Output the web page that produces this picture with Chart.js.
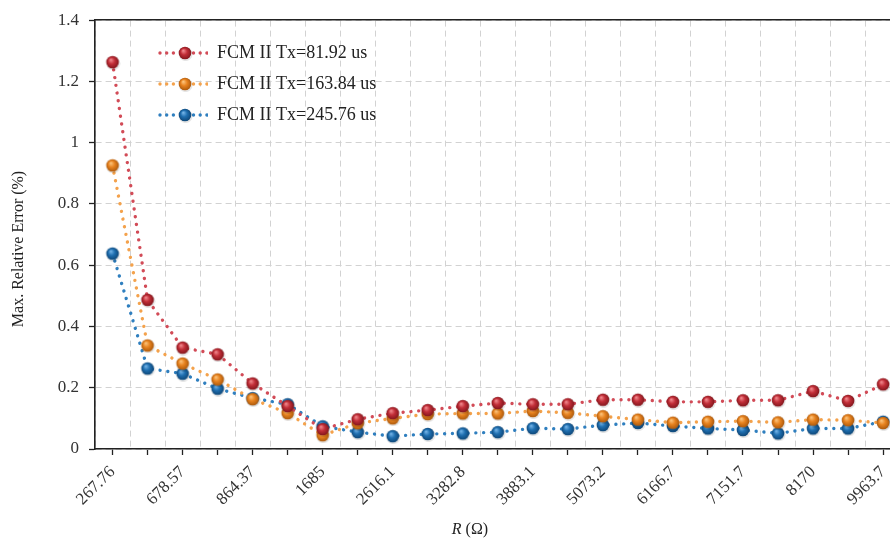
<!DOCTYPE html>
<html>
<head>
<meta charset="utf-8">
<script src="https://cdn.jsdelivr.net/npm/chart.js@4.4.1/dist/chart.umd.min.js"></script>
<style>
  body { margin: 0; width: 890px; height: 542px; overflow: hidden; background: #fff; }
  #wrap { width: 910px; height: 542px; }
</style>
</head>
<body>
<div id="wrap"><canvas id="errChart" width="910" height="542"></canvas></div>
<script>
// tick labels shown on the x axis (every other point is labelled)
const rTicks = ["267.76", "678.57", "864.37", "1685", "2616.1", "3282.8",
                "3883.1", "5073.2", "6166.7", "7151.7", "8170", "9963.7"];

// 23 measured resistances, the odd ones have no label in the figure
const categories = [];
for (let i = 0; i < 23; i++) categories.push(i % 2 === 0 ? rTicks[i / 2] : "");

const seriesNames = ["FCM II Tx=81.92 us", "FCM II Tx=163.84 us", "FCM II Tx=245.76 us"];

// max relative error (%)
const err8192 = [1.263, 0.487, 0.331, 0.309, 0.214, 0.140, 0.065, 0.097, 0.117, 0.127, 0.140, 0.150,
                 0.146, 0.146, 0.161, 0.161, 0.154, 0.154, 0.159, 0.159, 0.189, 0.157, 0.211];
const err16384 = [0.926, 0.338, 0.279, 0.227, 0.163, 0.117, 0.045, 0.084, 0.100, 0.114, 0.116, 0.116,
                  0.124, 0.118, 0.107, 0.096, 0.086, 0.089, 0.091, 0.087, 0.096, 0.094, 0.085];
const err24576 = [0.638, 0.263, 0.246, 0.197, 0.166, 0.146, 0.074, 0.055, 0.042, 0.049, 0.051, 0.055,
                  0.068, 0.065, 0.078, 0.085, 0.075, 0.067, 0.062, 0.051, 0.067, 0.067, 0.089];

const yTicks = [0, 0.2, 0.4, 0.6, 0.8, 1, 1.2, 1.4];

const xTitle = ["R", " (\u03A9)"];   // R in italics
const yTitle = "Max. Relative Error (%)";

// colours: marker base / highlight / shade / dotted line
const palette = [
  { base: "#c22e38", light: "#f0878c", dark: "#7e151b", line: "#d24b57" },
  { base: "#e8831f", light: "#fbc27a", dark: "#a9570b", line: "#f4a24c" },
  { base: "#1f6fb0", light: "#72b2e6", dark: "#0d4474", line: "#2f7fbf" }
];

const serif = "'Liberation Serif', serif";

// shaded ball used as the point marker
function makeBall(c) {
  const cv = document.createElement("canvas");
  cv.width = 16; cv.height = 16;
  const g = cv.getContext("2d");
  g.fillStyle = "rgba(0,0,0,0.10)";
  g.beginPath(); g.arc(8.6, 9.2, 6.9, 0, Math.PI * 2); g.fill();
  const grd = g.createRadialGradient(6.2, 5.6, 0.4, 8, 8, 6.6);
  grd.addColorStop(0, c.light);
  grd.addColorStop(0.45, c.base);
  grd.addColorStop(1, c.dark);
  g.fillStyle = grd;
  g.beginPath(); g.arc(8, 8, 6.3, 0, Math.PI * 2); g.fill();
  return cv;
}

// legend sample: dotted line with a ball in the middle (left part left empty)
function makeLegendSample(c, ball) {
  const cv = document.createElement("canvas");
  cv.width = 100; cv.height = 16;
  const g = cv.getContext("2d");
  g.fillStyle = c.line;
  for (let x = 52; x <= 99; x += 6.7) {
    if (Math.abs(x - 77) < 7) continue;
    g.beginPath(); g.arc(x, 8, 1.7, 0, Math.PI * 2); g.fill();
  }
  g.drawImage(ball, 69, 0);
  return cv;
}

const balls = palette.map(makeBall);
const samples = palette.map((c, i) => makeLegendSample(c, balls[i]));

const seriesData = [err8192, err16384, err24576];
const datasets = seriesData.map((d, i) => ({
  label: seriesNames[i],
  data: d,
  borderColor: palette[i].line,
  backgroundColor: palette[i].base,
  borderWidth: 3.4,
  borderDash: [0.01, 7.8],
  borderCapStyle: "round",
  tension: 0,
  pointStyle: balls[i],
  pointRadius: 6,
  xAxisID: "x",
  yAxisID: "y"
}));

// axis titles: italic R on x, y title centred like the original
const axisTitlePlugin = {
  id: "axisTitles",
  afterDraw(chart) {
    const ctx = chart.ctx;
    ctx.save();
    ctx.fillStyle = "#222";
    ctx.textBaseline = "middle";
    ctx.font = "italic 16px " + serif;
    const w1 = ctx.measureText(xTitle[0]).width;
    ctx.font = "16px " + serif;
    const w2 = ctx.measureText(xTitle[1]).width;
    const x0 = 470 - (w1 + w2) / 2;
    ctx.font = "italic 16px " + serif;
    ctx.fillText(xTitle[0], x0, 530);
    ctx.font = "16px " + serif;
    ctx.fillText(xTitle[1], x0 + w1, 530);

    ctx.translate(19, 249);
    ctx.rotate(-Math.PI / 2);
    ctx.textAlign = "center";
    ctx.fillText(yTitle, 0, 0);
    ctx.restore();
  }
};

Chart.defaults.font.family = serif;
Chart.defaults.color = "#222";

const config = {
  type: "line",
  data: { labels: categories, datasets: datasets },
  options: {
    responsive: false,
    animation: false,
    layout: { padding: { left: 0, right: 5, top: 18, bottom: 0 } },
    plugins: {
      legend: {
        position: "chartArea",
        align: "start",
        title: { display: true, text: " ", font: { size: 10 }, padding: { top: 19, bottom: 0 } },
        labels: {
          usePointStyle: true,
          pointStyleWidth: 100,
          padding: 13,
          color: "#222",
          font: { size: 18 },
          generateLabels: (chart) => chart.data.datasets.map((ds, i) => ({
            text: ds.label,
            pointStyle: samples[i],
            fillStyle: "transparent",
            strokeStyle: "transparent",
            lineWidth: 0,
            hidden: false,
            datasetIndex: i,
            fontColor: "#222"
          }))
        }
      },
      tooltip: { enabled: false }
    },
    scales: {
      x: {
        type: "category",
        position: "bottom",
        offset: true,
        grid: { offset: false, drawOnChartArea: false, tickLength: 6, tickColor: "#222", tickWidth: 1.3 },
        border: { color: "#222", width: 1.6 },
        ticks: {
          autoSkip: false, maxRotation: 45, minRotation: 45, padding: 7,
          color: "#333", font: { size: 17 },
          callback: (v, i) => categories[i]
        },
        afterFit: (s) => { s.height = 93; }
      },
      x2: {
        type: "category",
        position: "top",
        labels: categories,
        offset: true,
        grid: { offset: true, drawTicks: false, color: "#d2d2d2", lineWidth: 1 },
        border: { color: "#222", width: 1.6, dash: [6, 4] },
        ticks: { display: false },
        afterFit: (s) => { s.height = 0; }
      },
      y: {
        min: 0,
        max: 1.4,
        afterBuildTicks: (s) => { s.ticks = yTicks.map(v => ({ value: v })); },
        grid: { color: "#d2d2d2", lineWidth: 1, tickLength: 6, tickColor: "#222", tickWidth: 1.3, tickBorderDash: [] },
        border: { color: "#222", width: 1.6, dash: [6, 4] },
        ticks: { padding: 10, color: "#333", font: { size: 17 }, callback: (v) => String(v) },
        title: { display: false },
        afterFit: (s) => { s.width = 95; }
      }
    }
  },
  plugins: [axisTitlePlugin]
};

const ctx = document.getElementById("errChart").getContext("2d");
const errChart = new Chart(ctx, config);
</script>
</body>
</html>
